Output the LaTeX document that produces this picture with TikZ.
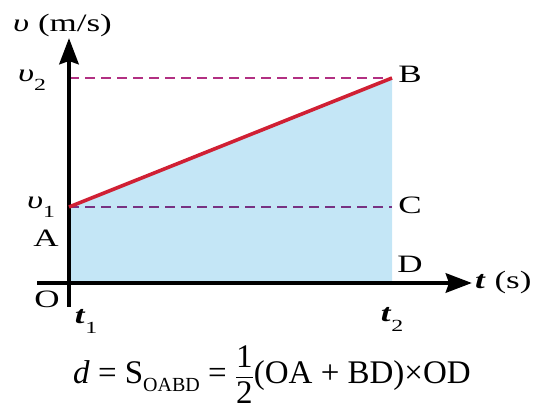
\documentclass[tikz,border=0pt]{standalone}
\usepackage{fontspec}
\usepackage{amsmath}
\usepackage{graphicx}
\setmainfont{Liberation Serif}
\usetikzlibrary{arrows.meta}
\definecolor{areablue}{RGB}{196,230,246}
\definecolor{redln}{RGB}{208,32,52}
\definecolor{dashA}{RGB}{178,48,130}
\definecolor{dashB}{RGB}{120,50,130}
\newcommand{\wlbl}[1]{\scalebox{1.4}[1]{#1}}
\begin{document}
\begin{tikzpicture}[x=1pt,y=-1pt,
  axisline/.style={line width=4.8pt,-{Stealth[length=26pt,width=19pt,inset=3pt]}},
  dashln/.style={dash pattern=on 10pt off 6pt,line width=2.6pt},
  redline/.style={redln,line width=3.6pt},
  lab/.style={font=\fontsize{25}{25}\selectfont,inner sep=0pt},
  formula/.style={font=\fontsize{33}{33}\selectfont,inner sep=0pt}]
\useasboundingbox (0,0) rectangle (542,411);
\coordinate (O) at (69,283);
\coordinate (A) at (69,207);
\coordinate (B) at (392,78);
\coordinate (C) at (392,207);
\coordinate (D) at (392,283);
\coordinate (V2) at (69,78);
\coordinate (ytop) at (69,38);
\coordinate (ybot) at (69,307);
\coordinate (xleft) at (37,283);
\coordinate (xtip) at (472,283);
% shaded area
\fill[areablue] (A) -- (B) -- (D) -- (O) -- cycle;
% dashed lines
\draw[dashln,dashA] (V2) -- (B);
\draw[dashln,dashB] (A) -- (C);
% axes
\draw[axisline] (ybot) -- (ytop);
\draw[axisline] (xleft) -- (xtip);
% red line
\draw[redline] (A) -- (B);
% labels
\node[lab,anchor=west] (vlab) at (13,25) {\wlbl{\textit{υ} (m/s)}};
\node[lab] (v2lab) at (32,80) {\wlbl{\textit{υ}\raisebox{-0.35em}{\fontsize{17}{17}\selectfont 2}}};
\node[lab] (v1lab) at (41,207) {\wlbl{\textit{υ}\raisebox{-0.35em}{\fontsize{17}{17}\selectfont 1}}};
\node[lab] (Alab) at (46,238) {\wlbl{A}};
\node[lab] (Olab) at (47,299) {\wlbl{O}};
\node[lab] (t1lab) at (86,321) {\wlbl{\textbf{\textit{t}}\raisebox{-0.4em}{\fontsize{17}{17}\selectfont 1}}};
\node[lab] (t2lab) at (392,319) {\wlbl{\textbf{\textit{t}}\raisebox{-0.4em}{\fontsize{17}{17}\selectfont 2}}};
\node[lab] (Blab) at (410,74) {\wlbl{B}};
\node[lab] (Clab) at (410,205) {\wlbl{C}};
\node[lab] (Dlab) at (410,264) {\wlbl{D}};
\node[lab,anchor=west] (tlab) at (475,282) {\wlbl{\textbf{\textit{t}} (s)}};
% formula
\node[formula,anchor=base] (form) at (272,384)
  {\textit{d} = S\raisebox{-0.22em}{\fontsize{20}{20}\selectfont OABD} = $\dfrac{\text{1}}{\text{2}}$(OA + BD)×OD};
\end{tikzpicture}
\end{document}
